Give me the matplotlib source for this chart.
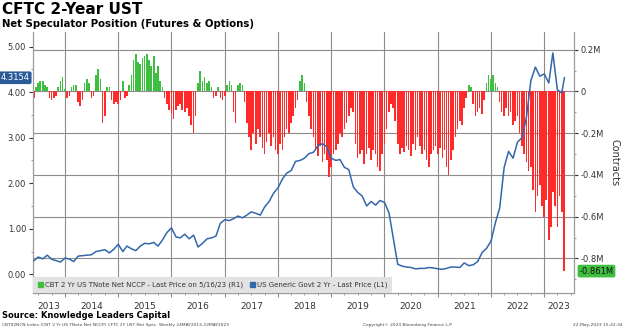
import numpy as np
import pandas as pd
import matplotlib.pyplot as plt
import matplotlib.dates as mdates
import matplotlib.transforms as mtransforms
from matplotlib.patches import Patch

# SETTINGS
GREEN = "#3fbf3f"
RED = "#ff2b2b"
BLUE = "#3367ab"
GRID = "#8c8c8c"
TXT = "#333333"

# Net speculator position (millions of contracts), twice a month from Jun 2013
nccp_2013 = [-0.03, 0.02, 0.04, 0.05, 0.05, 0.03, 0.02, -0.03, -0.04, -0.03, -0.02, 0.02, 0.05, 0.07]
nccp_2014 = [0.01, -0.03, -0.02, 0.02, 0.03, 0.03, -0.05, -0.07, -0.04, 0.04, 0.06, 0.04,
             -0.03, -0.02, 0.08, 0.11, 0.06, -0.15, -0.12, 0.02, 0.02, -0.04, -0.06, -0.05]
nccp_2015 = [-0.06, -0.04, 0.05, -0.03, -0.02, 0.03, 0.08, 0.15, 0.18, 0.14, 0.13, 0.16,
             0.17, 0.18, 0.15, 0.12, 0.17, 0.09, 0.12, 0.05, 0.02, -0.03, -0.06, -0.09]
nccp_2016 = [-0.11, -0.13, -0.09, -0.07, -0.06, -0.09, -0.10, -0.08, -0.12, -0.16, -0.20, -0.12,
             0.04, 0.10, 0.05, 0.07, 0.04, 0.05, 0.02, -0.03, -0.02, 0.02, -0.03, -0.04]
nccp_2017 = [-0.02, 0.03, 0.05, 0.03, -0.10, -0.15, 0.03, 0.04, 0.03, -0.05, -0.15, -0.22,
             -0.28, -0.20, -0.25, -0.18, -0.22, -0.27, -0.30, -0.24, -0.20, -0.26, -0.22, -0.28]
nccp_2018 = [-0.30, -0.25, -0.28, -0.22, -0.18, -0.20, -0.15, -0.12, -0.08, -0.04, 0.05, 0.08,
             0.04, -0.05, -0.12, -0.18, -0.22, -0.28, -0.31, -0.26, -0.34, -0.30, -0.33, -0.41]
nccp_2019 = [-0.36, -0.30, -0.28, -0.25, -0.20, -0.22, -0.18, -0.15, -0.12, -0.08, -0.10, -0.25,
             -0.32, -0.30, -0.28, -0.35, -0.30, -0.27, -0.33, -0.28, -0.30, -0.36, -0.38, -0.30]
nccp_2020 = [-0.25, -0.18, -0.10, -0.06, -0.08, -0.14, -0.25, -0.30, -0.27, -0.29, -0.26, -0.28,
             -0.31, -0.25, -0.28, -0.22, -0.26, -0.30, -0.28, -0.33, -0.36, -0.30, -0.28, -0.26]
nccp_2021 = [-0.30, -0.27, -0.32, -0.28, -0.36, -0.40, -0.33, -0.28, -0.22, -0.18, -0.14, -0.16,
             -0.08, -0.03, 0.03, 0.02, -0.06, -0.12, -0.10, -0.08, -0.11, -0.04, 0.04, 0.08]
nccp_2022 = [0.06, 0.08, 0.04, 0.02, -0.05, -0.10, -0.12, -0.08, -0.12, -0.10, -0.16, -0.14,
             -0.12, -0.20, -0.26, -0.30, -0.34, -0.38, -0.36, -0.47, -0.58, -0.50, -0.45, -0.55]
nccp_2023 = [-0.60, -0.52, -0.71, -0.65, -0.48, -0.55, -0.65, -0.50, -0.58, -0.861]

# US generic govt 2 yr yield (%), monthly from Jun 2013, last print on 19 May 2023
yld_2013 = [0.30, 0.38, 0.34, 0.42, 0.33, 0.30, 0.27]
yld_2014 = [0.36, 0.33, 0.28, 0.40, 0.41, 0.42, 0.43, 0.50, 0.52, 0.54, 0.47, 0.55]
yld_2015 = [0.66, 0.50, 0.62, 0.56, 0.52, 0.62, 0.68, 0.67, 0.70, 0.62, 0.76, 0.92]
yld_2016 = [1.02, 0.82, 0.80, 0.88, 0.78, 0.86, 0.60, 0.68, 0.78, 0.80, 0.84, 1.12]
yld_2017 = [1.20, 1.18, 1.22, 1.28, 1.24, 1.30, 1.37, 1.34, 1.30, 1.48, 1.60, 1.78]
yld_2018 = [1.90, 2.10, 2.22, 2.28, 2.48, 2.50, 2.55, 2.65, 2.68, 2.82, 2.87, 2.80]
yld_2019 = [2.55, 2.50, 2.52, 2.35, 2.30, 1.92, 1.80, 1.72, 1.50, 1.60, 1.52, 1.62]
yld_2020 = [1.58, 1.35, 0.80, 0.22, 0.18, 0.16, 0.15, 0.12, 0.13, 0.13, 0.15, 0.14]
yld_2021 = [0.12, 0.11, 0.13, 0.16, 0.16, 0.15, 0.25, 0.19, 0.21, 0.28, 0.48, 0.57]
yld_2022 = [0.73, 1.15, 1.45, 2.35, 2.70, 2.55, 2.90, 3.00, 3.45, 4.25, 4.55, 4.35]
yld_2023 = [4.40, 4.20, 4.86, 4.05, 3.98, 4.3154]

years = list(range(2013, 2024))

nccp = np.array(nccp_2013 + nccp_2014 + nccp_2015 + nccp_2016 + nccp_2017 + nccp_2018
                + nccp_2019 + nccp_2020 + nccp_2021 + nccp_2022 + nccp_2023)
yld = np.array(yld_2013 + yld_2014 + yld_2015 + yld_2016 + yld_2017 + yld_2018
               + yld_2019 + yld_2020 + yld_2021 + yld_2022 + yld_2023)

bar_dates = pd.date_range("2013-06-01", "2023-05-15", freq="SMS")
line_dates = list(pd.date_range("2013-06-01", "2023-05-01", freq="MS")) + [pd.Timestamp("2023-05-19")]

x_start = pd.Timestamp("2013-05-26")
x_end = pd.Timestamp("2023-07-24")

fig = plt.figure(figsize=(6.24, 3.30), dpi=100)
ax = fig.add_axes([33 / 624, 1 - 293 / 330, 541 / 624, 261 / 330])

# bars on the right scale
bar_colors = np.where(nccp >= 0, GREEN, RED)
ax.bar(bar_dates, nccp, width=11, color=bar_colors, linewidth=0, zorder=2)
ax.set_ylim(-0.966, 0.285)
ax.set_xlim(x_start, x_end)

# line on the left scale (twinx resets the tick side of ax, so set sides after it)
ax2 = ax.twinx()
ax2.plot(line_dates, yld, color=BLUE, linewidth=1.1, zorder=3)
ax2.yaxis.tick_left()
ax2.yaxis.set_label_position("left")
ax.yaxis.tick_right()
ax.yaxis.set_label_position("right")

rticks = [-0.8, -0.6, -0.4, -0.2, 0, 0.2]
ax.set_yticks(rticks)
ax.set_yticklabels(["-0.8M", "-0.6M", "-0.4M", "-0.2M", "0", "0.2M"])
ax.set_yticks(np.arange(-0.9, 0.25, 0.1), minor=True)
ax.set_ylabel("Contracts", rotation=270, labelpad=11, fontsize=7, color=TXT)

year_starts = [pd.Timestamp(f"{y}-01-01") for y in years[1:]]
ax.set_xticks(year_starts)
ax.set_xticklabels([])
ax.set_xticks(pd.date_range("2013-07-01", "2023-07-01", freq="QS"), minor=True)
ax.grid(True, which="major", color=GRID, linewidth=0.8, zorder=0)
ax.set_axisbelow(True)

ax.tick_params(axis="y", which="major", length=3, labelsize=6, colors=TXT, pad=2)
ax.tick_params(axis="y", which="minor", length=1.5, color=GRID)
ax.tick_params(axis="x", which="major", length=3, color=GRID)
ax.tick_params(axis="x", which="minor", length=1.5, color=GRID)

ax2.set_ylim(-0.41, 5.32)
ax2.set_yticks([0, 1, 2, 3, 4, 5])
ax2.set_yticklabels([f"{v:.2f}" for v in [0, 1, 2, 3, 4, 5]])
ax2.set_yticks(np.arange(0.5, 5.0, 1.0), minor=True)
ax2.tick_params(axis="y", which="major", length=3, labelsize=6, colors=TXT, pad=2)
ax2.tick_params(axis="y", which="minor", length=1.5, color=GRID)

# year labels centred in the visible part of each year
trans = mtransforms.blended_transform_factory(ax.transData, ax.transAxes)
for y in years:
    lo = max(mdates.date2num(pd.Timestamp(f"{y}-01-01")), mdates.date2num(x_start))
    hi = min(mdates.date2num(pd.Timestamp(f"{y + 1}-01-01")), mdates.date2num(x_end))
    ax.text((lo + hi) / 2, -0.05, str(y), transform=trans, ha="center", va="center",
            fontsize=6.5, color=TXT)

for a in (ax, ax2):
    a.spines["top"].set_visible(False)
    for s in ("left", "right", "bottom"):
        a.spines[s].set_color("#9a9a9a")
        a.spines[s].set_linewidth(0.8)

# last value flags
ax2.text(-0.006, yld[-1], f"{yld[-1]:.4f}", transform=ax2.get_yaxis_transform(),
         ha="right", va="center", fontsize=6, color="white", clip_on=False,
         bbox=dict(boxstyle="round,pad=0.22", fc="#2b5c99", ec="none"))
ax.text(1.01, nccp[-1], f"{nccp[-1]:.3f}M", transform=ax.get_yaxis_transform(),
        ha="left", va="center", fontsize=6, color="#111111", clip_on=False,
        bbox=dict(boxstyle="round,pad=0.22", fc=GREEN, ec="none"))

handles = [Patch(color=GREEN), Patch(color=BLUE)]
labels = ["CBT 2 Yr US TNote Net NCCP - Last Price on 5/16/23 (R1)",
          "US Generic Govt 2 Yr - Last Price (L1)"]
leg = ax2.legend(handles, labels, loc="lower left", bbox_to_anchor=(0, 0), borderaxespad=0,
                 ncol=2, fontsize=5, frameon=True, fancybox=False, facecolor="#e2e2e2",
                 edgecolor="none", framealpha=1, handlelength=0.7, handleheight=0.7,
                 handletextpad=0.3, columnspacing=1.0, borderpad=0.7)
for t in leg.get_texts():
    t.set_color(TXT)

# titles and footer
fig.text(0.004, 1 - 2 / 330, "CFTC 2-Year UST", fontsize=11, fontweight="bold", va="top")
fig.text(0.004, 1 - 19 / 330, "Net Speculator Position (Futures & Options)",
         fontsize=7.3, fontweight="bold", va="top")
fig.text(0.004, 1 - 316 / 330, "Source: Knowledge Leaders Capital", fontsize=6,
         fontweight="bold", va="center")
fig.text(0.004, 1 - 325 / 330,
         "CBT02NCN Index (CBT 2 Yr US TNote Net NCCP) CFTC 2Y UST Net Spec  Weekly 24MAY2013-22MAY2023",
         fontsize=3.2, va="center", color="#444444")
fig.text(0.654, 1 - 325 / 330, "Copyright\u00a9 2023 Bloomberg Finance L.P.", fontsize=3.2,
         ha="center", va="center", color="#444444")
fig.text(0.997, 1 - 325 / 330, "22-May-2023 15:42:34", fontsize=3.2, ha="right",
         va="center", color="#444444")

fig.savefig("out.png", dpi=100)
